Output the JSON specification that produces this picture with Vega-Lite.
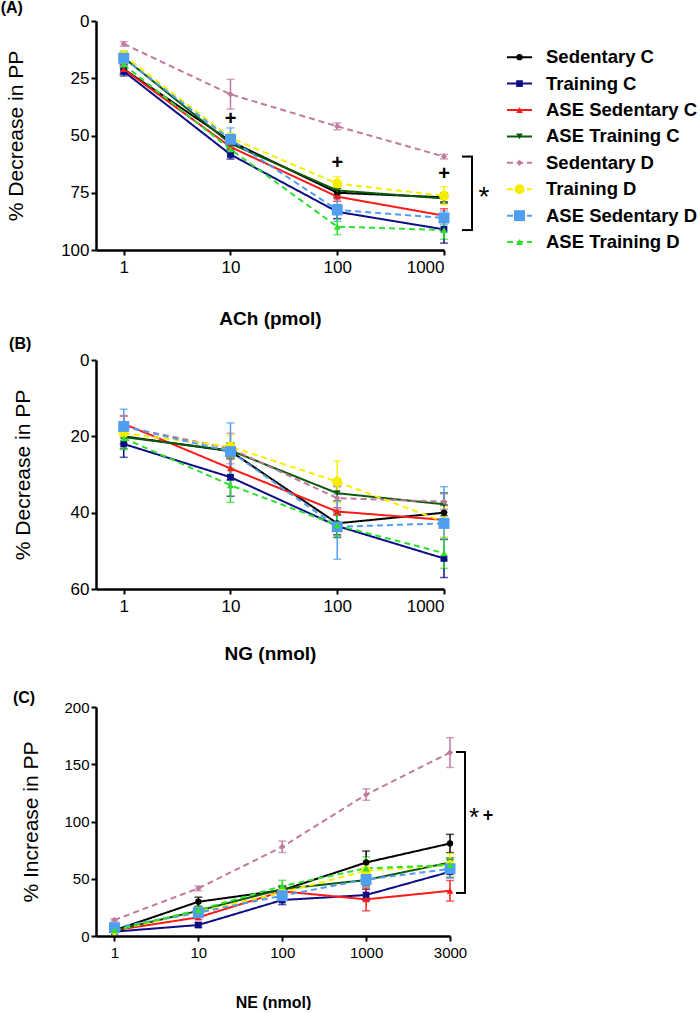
{
  "$schema": "https://vega.github.io/schema/vega-lite/v6.json",
  "padding": 0,
  "config": {
    "font": "Liberation Sans",
    "view": {"stroke": null},
    "axis": {"domainColor": "#000", "domainWidth": 2.5, "tickColor": "#000", "tickWidth": 2, "tickSize": 5, "labelColor": "#000", "titleColor": "#000", "grid": false, "labelFontSize": 17, "titleFontSize": 21, "titleFontWeight": "normal", "labelFont": "Liberation Sans", "titleFont": "Liberation Sans"},
    "axisX": {"titleFontWeight": "bold", "titleFontSize": 19, "labelPadding": 4, "labelAngle": 0},
    "axisY": {"labelPadding": 2},
    "title": {"font": "Liberation Sans", "fontSize": 16, "fontWeight": "bold", "anchor": "start", "frame": "bounds", "color": "#000", "offset": 0}
  },
  "datasets": {
    "a": [
      {"series": "Sedentary C", "dose": 1, "mean": 21, "sem": 2},
      {"series": "Sedentary C", "dose": 10, "mean": 52.5, "sem": 2},
      {"series": "Sedentary C", "dose": 100, "mean": 75, "sem": 2},
      {"series": "Sedentary C", "dose": 1000, "mean": 77, "sem": 2},
      {"series": "Training C", "dose": 1, "mean": 22, "sem": 2},
      {"series": "Training C", "dose": 10, "mean": 58.3, "sem": 2},
      {"series": "Training C", "dose": 100, "mean": 83.3, "sem": 3},
      {"series": "Training C", "dose": 1000, "mean": 91, "sem": 6},
      {"series": "ASE Sedentary C", "dose": 1, "mean": 21, "sem": 2},
      {"series": "ASE Sedentary C", "dose": 10, "mean": 55, "sem": 2},
      {"series": "ASE Sedentary C", "dose": 100, "mean": 76.7, "sem": 2},
      {"series": "ASE Sedentary C", "dose": 1000, "mean": 85, "sem": 3},
      {"series": "ASE Training C", "dose": 1, "mean": 16, "sem": 2},
      {"series": "ASE Training C", "dose": 10, "mean": 53.5, "sem": 2},
      {"series": "ASE Training C", "dose": 100, "mean": 74, "sem": 2},
      {"series": "ASE Training C", "dose": 1000, "mean": 77.5, "sem": 2},
      {"series": "Sedentary D", "dose": 1, "mean": 10, "sem": 1},
      {"series": "Sedentary D", "dose": 10, "mean": 32, "sem": 6.5},
      {"series": "Sedentary D", "dose": 100, "mean": 46, "sem": 1.5},
      {"series": "Sedentary D", "dose": 1000, "mean": 59.2, "sem": 1},
      {"series": "Training D", "dose": 1, "mean": 15, "sem": 2},
      {"series": "Training D", "dose": 10, "mean": 51, "sem": 2},
      {"series": "Training D", "dose": 100, "mean": 71, "sem": 3},
      {"series": "Training D", "dose": 1000, "mean": 76.3, "sem": 4},
      {"series": "ASE Sedentary D", "dose": 1, "mean": 16.3, "sem": 3},
      {"series": "ASE Sedentary D", "dose": 10, "mean": 51.7, "sem": 5},
      {"series": "ASE Sedentary D", "dose": 100, "mean": 82.5, "sem": 5},
      {"series": "ASE Sedentary D", "dose": 1000, "mean": 86, "sem": 3},
      {"series": "ASE Training D", "dose": 1, "mean": 19, "sem": 2},
      {"series": "ASE Training D", "dose": 10, "mean": 56, "sem": 2},
      {"series": "ASE Training D", "dose": 100, "mean": 89.8, "sem": 3.5},
      {"series": "ASE Training D", "dose": 1000, "mean": 91.3, "sem": 4}
    ],
    "b": [
      {"series": "Sedentary C", "dose": 1, "mean": 20, "sem": 2},
      {"series": "Sedentary C", "dose": 10, "mean": 23.9, "sem": 2},
      {"series": "Sedentary C", "dose": 100, "mean": 42.8, "sem": 3},
      {"series": "Sedentary C", "dose": 1000, "mean": 40, "sem": 2},
      {"series": "Training C", "dose": 1, "mean": 22, "sem": 3.5},
      {"series": "Training C", "dose": 10, "mean": 30.7, "sem": 5},
      {"series": "Training C", "dose": 100, "mean": 43.5, "sem": 3},
      {"series": "Training C", "dose": 1000, "mean": 52, "sem": 5},
      {"series": "ASE Sedentary C", "dose": 1, "mean": 16.7, "sem": 2},
      {"series": "ASE Sedentary C", "dose": 10, "mean": 28.4, "sem": 3},
      {"series": "ASE Sedentary C", "dose": 100, "mean": 39.7, "sem": 1},
      {"series": "ASE Sedentary C", "dose": 1000, "mean": 41.9, "sem": 2},
      {"series": "ASE Training C", "dose": 1, "mean": 20.2, "sem": 3},
      {"series": "ASE Training C", "dose": 10, "mean": 23.7, "sem": 2},
      {"series": "ASE Training C", "dose": 100, "mean": 34.9, "sem": 2},
      {"series": "ASE Training C", "dose": 1000, "mean": 37.8, "sem": 3},
      {"series": "Sedentary D", "dose": 1, "mean": 17.5, "sem": 3},
      {"series": "Sedentary D", "dose": 10, "mean": 23.2, "sem": 4},
      {"series": "Sedentary D", "dose": 100, "mean": 36.2, "sem": 3},
      {"series": "Sedentary D", "dose": 1000, "mean": 37.1, "sem": 2},
      {"series": "Training D", "dose": 1, "mean": 19.2, "sem": 2},
      {"series": "Training D", "dose": 10, "mean": 22.7, "sem": 3},
      {"series": "Training D", "dose": 100, "mean": 31.9, "sem": 5.5},
      {"series": "Training D", "dose": 1000, "mean": 42.4, "sem": 4},
      {"series": "ASE Sedentary D", "dose": 1, "mean": 17.4, "sem": 4.5},
      {"series": "ASE Sedentary D", "dose": 10, "mean": 24, "sem": 7.5},
      {"series": "ASE Sedentary D", "dose": 100, "mean": 43.7, "sem": 8.5},
      {"series": "ASE Sedentary D", "dose": 1000, "mean": 42.8, "sem": 9.6},
      {"series": "ASE Training D", "dose": 1, "mean": 20.5, "sem": 3},
      {"series": "ASE Training D", "dose": 10, "mean": 32.8, "sem": 4.5},
      {"series": "ASE Training D", "dose": 100, "mean": 43.3, "sem": 3},
      {"series": "ASE Training D", "dose": 1000, "mean": 50.6, "sem": 4}
    ],
    "c": [
      {"series": "Sedentary C", "dose": 1, "mean": 5, "sem": 1},
      {"series": "Sedentary C", "dose": 10, "mean": 29.9, "sem": 4},
      {"series": "Sedentary C", "dose": 100, "mean": 40, "sem": 3},
      {"series": "Sedentary C", "dose": 1000, "mean": 64.2, "sem": 10},
      {"series": "Sedentary C", "dose": 3000, "mean": 80.8, "sem": 8},
      {"series": "Training C", "dose": 1, "mean": 3.8, "sem": 1},
      {"series": "Training C", "dose": 10, "mean": 9.6, "sem": 2},
      {"series": "Training C", "dose": 100, "mean": 31.4, "sem": 4},
      {"series": "Training C", "dose": 1000, "mean": 35.8, "sem": 5},
      {"series": "Training C", "dose": 3000, "mean": 56.1, "sem": 5},
      {"series": "ASE Sedentary C", "dose": 1, "mean": 5, "sem": 1},
      {"series": "ASE Sedentary C", "dose": 10, "mean": 16.3, "sem": 2},
      {"series": "ASE Sedentary C", "dose": 100, "mean": 39, "sem": 4},
      {"series": "ASE Sedentary C", "dose": 1000, "mean": 32, "sem": 10},
      {"series": "ASE Sedentary C", "dose": 3000, "mean": 39.5, "sem": 9},
      {"series": "ASE Training C", "dose": 1, "mean": 5, "sem": 1},
      {"series": "ASE Training C", "dose": 10, "mean": 22, "sem": 2},
      {"series": "ASE Training C", "dose": 100, "mean": 41, "sem": 3},
      {"series": "ASE Training C", "dose": 1000, "mean": 48.9, "sem": 5},
      {"series": "ASE Training C", "dose": 3000, "mean": 64.2, "sem": 4},
      {"series": "Sedentary D", "dose": 1, "mean": 14, "sem": 1},
      {"series": "Sedentary D", "dose": 10, "mean": 41.6, "sem": 2},
      {"series": "Sedentary D", "dose": 100, "mean": 77.9, "sem": 5},
      {"series": "Sedentary D", "dose": 1000, "mean": 123.5, "sem": 5},
      {"series": "Sedentary D", "dose": 3000, "mean": 160.2, "sem": 13},
      {"series": "Training D", "dose": 1, "mean": 5, "sem": 1},
      {"series": "Training D", "dose": 10, "mean": 21, "sem": 2},
      {"series": "Training D", "dose": 100, "mean": 38, "sem": 3},
      {"series": "Training D", "dose": 1000, "mean": 57, "sem": 6},
      {"series": "Training D", "dose": 3000, "mean": 62, "sem": 10},
      {"series": "ASE Sedentary D", "dose": 1, "mean": 7.3, "sem": 1.5},
      {"series": "ASE Sedentary D", "dose": 10, "mean": 20.3, "sem": 4},
      {"series": "ASE Sedentary D", "dose": 100, "mean": 35.2, "sem": 4},
      {"series": "ASE Sedentary D", "dose": 1000, "mean": 49.4, "sem": 6},
      {"series": "ASE Sedentary D", "dose": 3000, "mean": 58.7, "sem": 8},
      {"series": "ASE Training D", "dose": 1, "mean": 5, "sem": 1},
      {"series": "ASE Training D", "dose": 10, "mean": 22.7, "sem": 3},
      {"series": "ASE Training D", "dose": 100, "mean": 43.6, "sem": 5},
      {"series": "ASE Training D", "dose": 1000, "mean": 59.1, "sem": 10},
      {"series": "ASE Training D", "dose": 3000, "mean": 62, "sem": 5}
    ],
    "legend": [
      {"series": "Sedentary C"}, {"series": "Training C"}, {"series": "ASE Sedentary C"}, {"series": "ASE Training C"},
      {"series": "Sedentary D"}, {"series": "Training D"}, {"series": "ASE Sedentary D"}, {"series": "ASE Training D"}
    ]
  },
  "concat": [
    {
      "width": 348, "height": 229,
      "title": {"text": "(A)", "dx": -5, "offset": -4},
      "encoding": {
        "x": {"field": "dose", "type": "quantitative", "scale": {"type": "log", "domain": [0.55, 1000], "nice": false}, "axis": {"values": [1, 10, 100, 1000], "format": "d", "title": "ACh (pmol)", "titlePadding": 34}},
        "y": {"field": "mean", "type": "quantitative", "scale": {"domain": [0, 100], "reverse": true, "nice": false, "zero": false}, "axis": {"values": [0, 25, 50, 75, 100], "title": "% Decrease in PP", "titlePadding": 34}}
      },
      "layer": [
        {"data": {"name": "a"}, "mark": {"type": "errorbar", "ticks": {"size": 8}, "thickness": 1.5},
         "encoding": {"yError": {"field": "sem"},
           "color": {"field": "series", "type": "nominal", "legend": null, "scale": {"domain": ["Sedentary C", "Training C", "ASE Sedentary C", "ASE Training C", "Sedentary D", "Training D", "ASE Sedentary D", "ASE Training D"], "range": ["#000000", "#0c0c86", "#ff1a1a", "#0a5a0a", "#c07a9e", "#f5ee00", "#4f9ef0", "#2fe02f"]}}}},
        {"data": {"name": "a"}, "mark": {"type": "line", "strokeWidth": 2},
         "encoding": {
           "color": {"field": "series", "type": "nominal", "legend": null},
           "strokeDash": {"field": "series", "type": "nominal", "legend": null, "scale": {"domain": ["Sedentary C", "Training C", "ASE Sedentary C", "ASE Training C", "Sedentary D", "Training D", "ASE Sedentary D", "ASE Training D"], "range": [[1, 0], [1, 0], [1, 0], [1, 0], [6, 4], [6, 4], [6, 4], [6, 4]]}}}},
        {"data": {"name": "a"}, "mark": {"type": "point", "filled": true, "opacity": 1},
         "encoding": {
           "color": {"field": "series", "type": "nominal", "legend": null},
           "shape": {"field": "series", "type": "nominal", "legend": null, "scale": {"domain": ["Sedentary C", "Training C", "ASE Sedentary C", "ASE Training C", "Sedentary D", "Training D", "ASE Sedentary D", "ASE Training D"], "range": ["circle", "square", "triangle-up", "triangle-down", "diamond", "circle", "square", "triangle-up"]}},
           "size": {"field": "series", "type": "nominal", "legend": null, "scale": {"type": "ordinal", "domain": ["Sedentary C", "Training C", "ASE Sedentary C", "ASE Training C", "Sedentary D", "Training D", "ASE Sedentary D", "ASE Training D"], "range": [40, 45, 45, 45, 40, 100, 120, 50]}}}},
        {"data": {"values": [{"dose": 10, "mean": 43, "label": "+"}, {"dose": 100, "mean": 62, "label": "+"}, {"dose": 1000, "mean": 67, "label": "+"}]},
         "mark": {"type": "text", "fontSize": 20, "fontWeight": "bold", "color": "#000"},
         "encoding": {"text": {"field": "label"}}},
        {"data": {"values": [{"dose": 1000, "mean": 59.2, "low": 91.3}]},
         "mark": {"type": "rule", "color": "#000", "strokeWidth": 2, "xOffset": 28},
         "encoding": {"y2": {"field": "low"}}},
        {"data": {"values": [{"dose": 1000, "mean": 59.2}, {"dose": 1000, "mean": 91.3}]},
         "mark": {"type": "rule", "color": "#000", "strokeWidth": 2, "xOffset": 18, "x2Offset": 29},
         "encoding": {"x2": {"field": "dose"}}},
        {"data": {"values": [{"dose": 1000, "mean": 75, "label": "*"}]},
         "mark": {"type": "text", "fontSize": 28, "color": "#000", "dx": 40, "dy": 5},
         "encoding": {"text": {"field": "label"}}}
      ]
    },
    {
      "width": 190, "height": 229,
      "data": {"name": "legend"},
      "encoding": {"y": {"field": "series", "type": "nominal", "sort": null, "scale": {"type": "point", "padding": 0.836, "align": 0.82}, "axis": null}},
      "layer": [
        {"mark": {"type": "rule", "strokeWidth": 2},
         "encoding": {"x": {"datum": 0, "type": "quantitative", "scale": {"domain": [0, 7.6], "nice": false, "zero": false}, "axis": null}, "x2": {"datum": 1},
           "color": {"field": "series", "type": "nominal", "legend": null},
           "strokeDash": {"field": "series", "type": "nominal", "legend": null}}},
        {"mark": {"type": "point", "filled": true, "opacity": 1},
         "encoding": {"x": {"datum": 0.5, "type": "quantitative"},
           "color": {"field": "series", "type": "nominal", "legend": null},
           "shape": {"field": "series", "type": "nominal", "legend": null},
           "size": {"field": "series", "type": "nominal", "legend": null, "scale": {"type": "ordinal", "domain": ["Sedentary C", "Training C", "ASE Sedentary C", "ASE Training C", "Sedentary D", "Training D", "ASE Sedentary D", "ASE Training D"], "range": [40, 45, 45, 45, 40, 100, 120, 50]}}}},
        {"mark": {"type": "text", "align": "left", "baseline": "middle", "fontSize": 18.5, "fontWeight": "bold", "color": "#000"},
         "encoding": {"x": {"datum": 1.56, "type": "quantitative"}, "text": {"field": "series"}}}
      ]
    },
    {
      "width": 348, "height": 229,
      "title": {"text": "(B)", "dx": -3, "offset": -1},
      "data": {"name": "b"},
      "encoding": {
        "x": {"field": "dose", "type": "quantitative", "scale": {"type": "log", "domain": [0.55, 1000], "nice": false}, "axis": {"values": [1, 10, 100, 1000], "format": "d", "title": "NG (nmol)", "titlePadding": 30}},
        "y": {"field": "mean", "type": "quantitative", "scale": {"domain": [0, 60], "reverse": true, "nice": false, "zero": false}, "axis": {"values": [0, 20, 40, 60], "title": "% Decrease in PP", "titlePadding": 37}},
        "color": {"field": "series", "type": "nominal", "legend": null}
      },
      "layer": [
        {"mark": {"type": "errorbar", "ticks": {"size": 8}, "thickness": 1.5}, "encoding": {"yError": {"field": "sem"}}},
        {"mark": {"type": "line", "strokeWidth": 2}, "encoding": {"strokeDash": {"field": "series", "type": "nominal", "legend": null}}},
        {"mark": {"type": "point", "filled": true, "opacity": 1},
         "encoding": {"shape": {"field": "series", "type": "nominal", "legend": null},
           "size": {"field": "series", "type": "nominal", "legend": null, "scale": {"type": "ordinal", "domain": ["Sedentary C", "Training C", "ASE Sedentary C", "ASE Training C", "Sedentary D", "Training D", "ASE Sedentary D", "ASE Training D"], "range": [40, 45, 45, 45, 40, 100, 120, 50]}}}}
      ]
    },
    {
      "width": 1, "height": 237,
      "data": {"values": [{}]},
      "mark": {"type": "point", "opacity": 0},
      "encoding": {}
    },
    {
      "width": 354, "height": 229,
      "title": {"text": "(C)", "dx": -8, "offset": -6},
      "encoding": {
        "x": {"field": "dose", "type": "ordinal", "scale": {"type": "point", "padding": 0.11, "align": 1}, "axis": {"title": "NE (nmol)", "titleFontSize": 16, "labelFontSize": 15, "titlePadding": 34}},
        "y": {"field": "mean", "type": "quantitative", "scale": {"domain": [0, 200], "nice": false}, "axis": {"values": [0, 50, 100, 150, 200], "title": "% Increase in PP", "labelFontSize": 15, "titleFontSize": 21, "titlePadding": 22}}
      },
      "layer": [
        {"data": {"name": "c"}, "mark": {"type": "errorbar", "ticks": {"size": 8}, "thickness": 1.5},
         "encoding": {"yError": {"field": "sem"}, "color": {"field": "series", "type": "nominal", "legend": null}}},
        {"data": {"name": "c"}, "mark": {"type": "line", "strokeWidth": 2},
         "encoding": {"color": {"field": "series", "type": "nominal", "legend": null}, "strokeDash": {"field": "series", "type": "nominal", "legend": null}}},
        {"data": {"name": "c"}, "mark": {"type": "point", "filled": true, "opacity": 1},
         "encoding": {"color": {"field": "series", "type": "nominal", "legend": null}, "shape": {"field": "series", "type": "nominal", "legend": null},
           "size": {"field": "series", "type": "nominal", "legend": null, "scale": {"type": "ordinal", "domain": ["Sedentary C", "Training C", "ASE Sedentary C", "ASE Training C", "Sedentary D", "Training D", "ASE Sedentary D", "ASE Training D"], "range": [40, 45, 45, 45, 40, 100, 120, 50]}}}},
        {"data": {"values": [{"dose": 3000, "mean": 160.7, "low": 37.6}]},
         "mark": {"type": "rule", "color": "#000", "strokeWidth": 2, "xOffset": 15},
         "encoding": {"y2": {"field": "low"}}},
        {"data": {"values": [{"dose": 3000, "mean": 160.7}, {"dose": 3000, "mean": 37.6}]},
         "mark": {"type": "rule", "color": "#000", "strokeWidth": 2, "xOffset": 6, "x2Offset": 16},
         "encoding": {"x2": {"field": "dose"}}},
        {"data": {"values": [{"dose": 3000, "mean": 105.7, "label": "*"}]},
         "mark": {"type": "text", "fontSize": 26, "color": "#000", "dx": 24, "dy": 3},
         "encoding": {"text": {"field": "label"}}},
        {"data": {"values": [{"dose": 3000, "mean": 105.7, "label": "+"}]},
         "mark": {"type": "text", "fontSize": 18, "fontWeight": "bold", "color": "#000", "dx": 38, "dy": 1},
         "encoding": {"text": {"field": "label"}}}
      ]
    }
  ],
  "columns": 2,
  "align": "each",
  "bounds": "flush",
  "spacing": {"row": 110, "column": 57}
}
